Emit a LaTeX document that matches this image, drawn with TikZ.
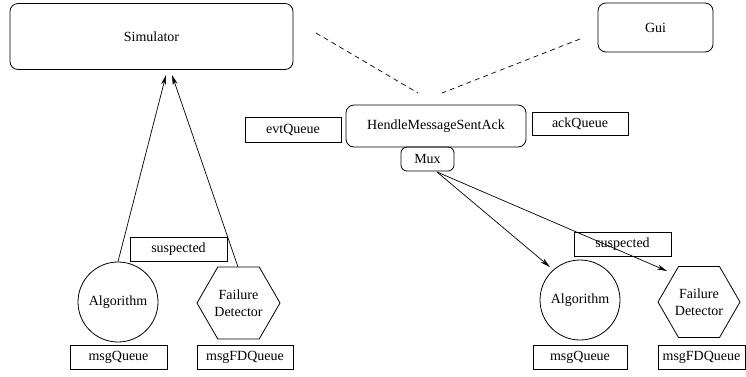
\documentclass[tikz,border=0pt]{standalone}
\usepackage{fontspec}
\setmainfont{Liberation Serif}
\usetikzlibrary{shapes.geometric,arrows.meta}

\tikzset{
  box/.style={draw, line width=0.8pt, rectangle, inner sep=0pt},
  rbox/.style={box, rounded corners=8pt},
  proc/.style={draw, line width=0.8pt, circle, inner sep=0pt, minimum size=80pt},
  hexlabel/.style={align=center, inner sep=0pt},
  outline/.style={line width=0.8pt},
  arr/.style={line width=0.7pt, -{Stealth[length=10pt,width=5pt,inset=3pt]}},
  link/.style={line width=0.7pt, dash pattern=on 5pt off 4pt},
}
% flat-topped hexagon of circumradius #2 round the centre of node #1
\newcommand{\hexround}[2]{%
  \draw[outline] (#1.center) ++(-#2,0) -- ++(0.5*#2,-0.866*#2) -- ++(#2,0)
    -- ++(0.5*#2,0.866*#2) -- ++(-0.5*#2,0.866*#2) -- ++(-#2,0) -- cycle;}

\begin{document}
\begin{tikzpicture}[x=1pt,y=-1pt,font=\fontsize{14}{17}\selectfont]
\useasboundingbox (0,0) rectangle (746,376);

% top row
\node[rbox, minimum width=283pt, minimum height=66pt] (sim) at (151.5,36.5) {Simulator};
\node[rbox, minimum width=115pt, minimum height=49pt] (gui) at (655.5,27.5) {Gui};

% central handler with its queues and multiplexer
\node[rbox, minimum width=180pt, minimum height=42pt] (hmsa) at (436,126) {HendleMessageSentAck};
\node[box, minimum width=96pt, minimum height=25pt] (evt) at (293,129.5) {evtQueue};
\node[box, minimum width=96pt, minimum height=23pt] (ack) at (580,123.5) {ackQueue};
\node[rbox, rounded corners=6pt, minimum width=53pt, minimum height=24pt] (mux) at (427.5,159) {Mux};

% left process
\node[proc] (alg1) at (118,302) {Algorithm};
\node[hexlabel] (fd1) at (238.5,303) {Failure\\Detector};
\hexround{fd1}{41.5}
\node[box, minimum width=97pt, minimum height=24pt] (susp1) at (178.5,249) {suspected};
\node[box, minimum width=97pt, minimum height=24pt] (mq1) at (118.5,357) {msgQueue};
\node[box, minimum width=96pt, minimum height=24pt] (mfd1) at (245,357) {msgFDQueue};

% right process
\node[proc] (alg2) at (580,300) {Algorithm};
\node[hexlabel] (fd2) at (699,302) {Failure\\Detector};
\hexround{fd2}{41}
\node[box, minimum width=97pt, minimum height=24pt] (susp2) at (622.5,244) {suspected};
\node[box, minimum width=94pt, minimum height=24pt] (mq2) at (580,357) {msgQueue};
\node[box, minimum width=87pt, minimum height=24pt] (mfd2) at (701.5,357) {msgFDQueue};

% connector end points
\coordinate (simin1) at (166,75);
\coordinate (simin2) at (172,75);
\coordinate (fd1top) at (238,267);
\coordinate (muxout) at (437,172);
\coordinate (alg2in) at (550,267);
\coordinate (fd2in) at (667,271);
\coordinate (simtap) at (316,33);
\coordinate (guitap) at (580,39);
\coordinate (hmsatapl) at (418,93);
\coordinate (hmsatapr) at (442,93);

% connectors
\draw[arr] (alg1.north) -- (simin1);
\draw[arr] (fd1top) -- (simin2);
\draw[arr] (muxout) -- (alg2in);
\draw[arr] (muxout) -- (fd2in);
\draw[link] (simtap) -- (hmsatapl);
\draw[link] (guitap) -- (hmsatapr);
\end{tikzpicture}
\end{document}
